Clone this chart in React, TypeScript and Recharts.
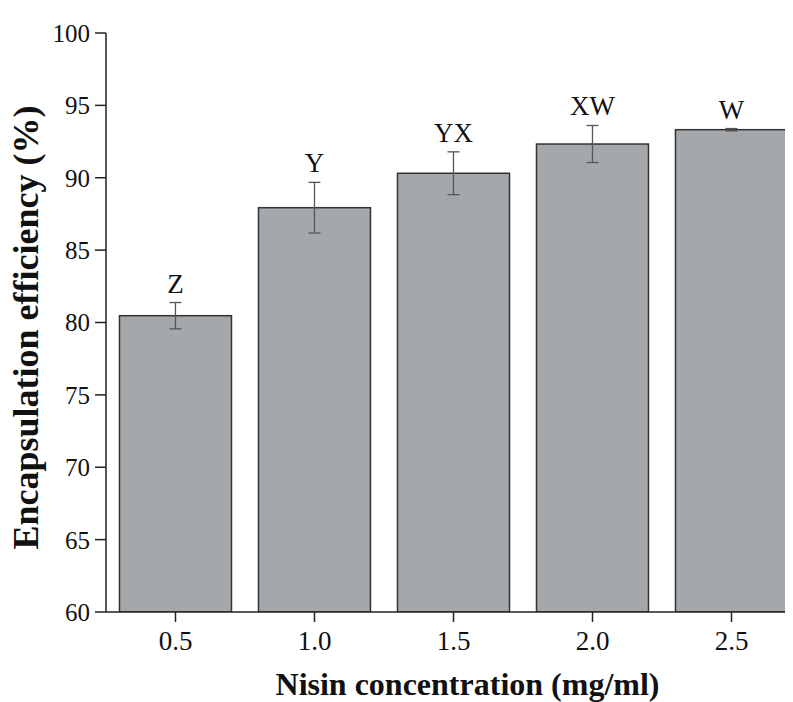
import React from 'react';
import { BarChart, Bar, XAxis, YAxis, ErrorBar, Label } from 'recharts';

const concentrations = ['0.5', '1.0', '1.5', '2.0', '2.5'];
const efficiency = [80.47, 87.93, 90.31, 92.33, 93.32];
const errors = [0.91, 1.75, 1.48, 1.28, 0.08];
const letters = ['Z', 'Y', 'YX', 'XW', 'W'];
const yTicks = [60, 65, 70, 75, 80, 85, 90, 95, 100];

const data = concentrations.map((c, i) => ({
  name: c,
  value: efficiency[i],
  err: errors[i],
  letter: letters[i],
}));

const font = '"Times New Roman", "Liberation Serif", serif';
const axisColor = '#222';

// bar rect plus the significance letter sitting just above the error bar
const BarWithLetter = (props: any) => {
  const { x, y, width, height, payload } = props;
  const pxPerUnit = height / (payload.value - 60);
  const errTop = y - payload.err * pxPerUnit;
  return (
    <g>
      <rect x={x} y={y} width={width} height={height} fill="#a5a8ab" stroke="#333" strokeWidth={1.5} />
      <text
        x={x + width / 2}
        y={errTop - 10}
        textAnchor="middle"
        fontSize={27}
        fontFamily={font}
        fill="#111"
      >
        {payload.letter}
      </text>
    </g>
  );
};

const App: React.FC = () => {
  return (
    <div style={{ width: 785, height: 694, overflow: 'hidden' }}>
      <BarChart
        width={800}
        height={694}
        data={data}
        margin={{ top: 25, right: 7, left: 0, bottom: 0 }}
        barCategoryGap="9.7%"
      >
        <XAxis
          dataKey="name"
          height={90}
          tickSize={10}
          tickMargin={9}
          stroke={axisColor}
          axisLine={{ stroke: axisColor, strokeWidth: 1.5 }}
          tickLine={{ stroke: axisColor, strokeWidth: 1.5 }}
          tick={{ fontSize: 27, fontFamily: font, fill: '#111' }}
        >
          <Label
            content={(p: any) => {
              const vb = p.viewBox;
              return (
                <text
                  x={vb.x + vb.width / 2 + 14}
                  y={vb.y + vb.height - 7}
                  textAnchor="middle"
                  fontSize={32}
                  fontWeight="bold"
                  fontFamily={font}
                  fill="#111"
                >
                  Nisin concentration (mg/ml)
                </text>
              );
            }}
          />
        </XAxis>
        <YAxis
          width={98}
          domain={[60, 100]}
          ticks={yTicks}
          interval={0}
          allowDataOverflow
          tickSize={11}
          tickMargin={5}
          stroke={axisColor}
          axisLine={{ stroke: axisColor, strokeWidth: 1.5 }}
          tickLine={{ stroke: axisColor, strokeWidth: 1.5 }}
          tick={{ fontSize: 25, fontFamily: font, fill: '#111' }}
        >
          <Label
            content={(p: any) => {
              const vb = p.viewBox;
              const cx = 30;
              const cy = vb.y + vb.height / 2 + 5;
              return (
                <text
                  x={cx}
                  y={cy}
                  transform={`rotate(-90, ${cx}, ${cy})`}
                  textAnchor="middle"
                  fontSize={36}
                  fontWeight="bold"
                  fontFamily={font}
                  fill="#111"
                >
                  Encapsulation efficiency (%)
                </text>
              );
            }}
          />
        </YAxis>
        <Bar dataKey="value" shape={BarWithLetter} isAnimationActive={false}>
          <ErrorBar dataKey="err" width={6} stroke="#555" strokeWidth={1.3} />
        </Bar>
      </BarChart>
    </div>
  );
};

export default App;
